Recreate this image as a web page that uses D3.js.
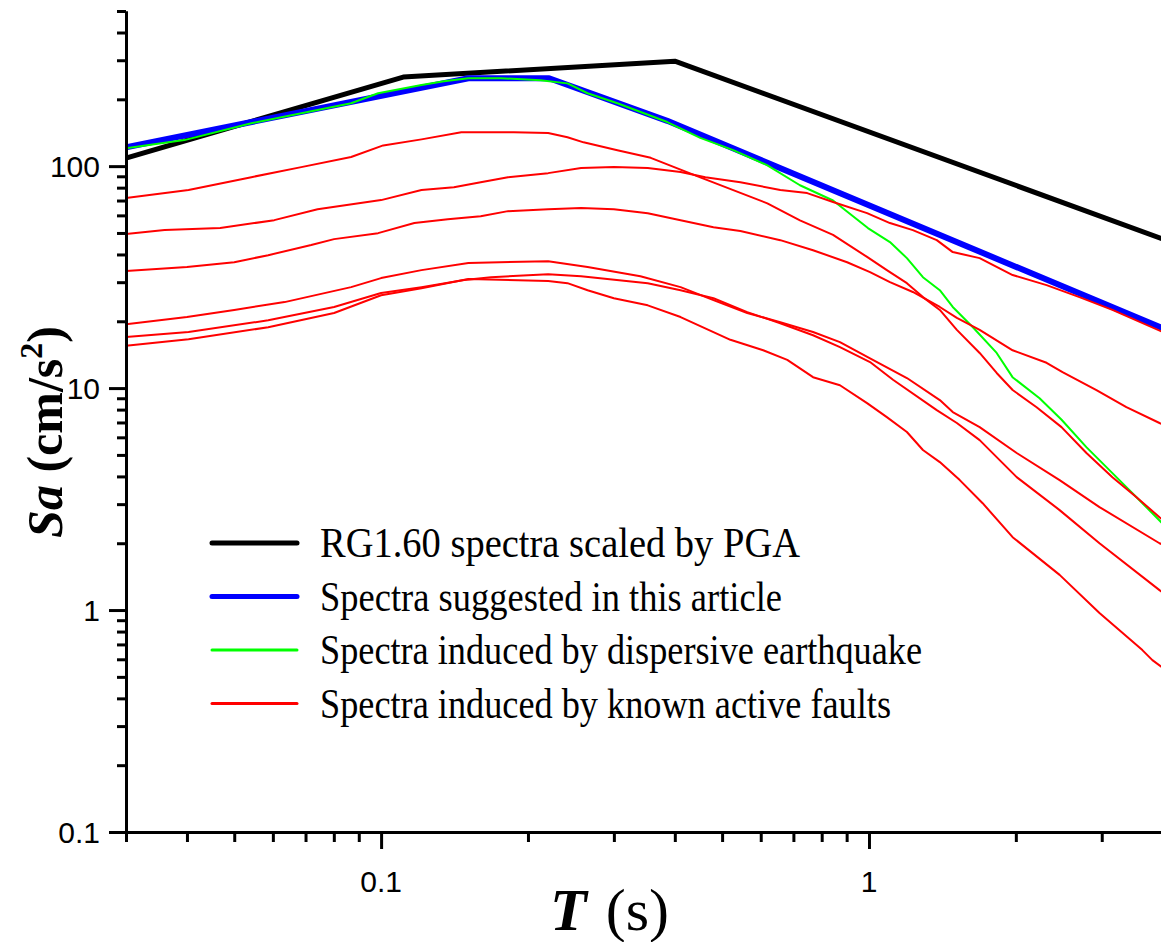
<!DOCTYPE html>
<html>
<head>
<meta charset="utf-8">
<script src="https://cdn.jsdelivr.net/npm/d3@7"></script>
<style>
  html, body { margin: 0; padding: 0; background: #fff; }
  svg { display: block; }
</style>
</head>
<body>
<div id="chart"></div>
<script>
// Sa (cm/s^2) vs period T (s), log-log response spectra

// RG1.60 spectrum scaled by PGA (control points)
const rgPeriods = [0.03, 0.111, 0.4, 4];
const rgValues  = [108.6, 252, 297, 47];

// spectrum suggested in the article
const suggPeriods = [0.03, 0.151, 0.221, 0.386, 4];
const suggValues  = [121.5, 249, 249, 160, 18.6];

// dispersive earthquake
const dispPeriods = [0.03, 0.0395, 0.0542, 0.0868, 0.0986, 0.121, 0.1345, 0.151, 0.176, 0.212, 0.241, 0.265, 0.305,
  0.386, 0.451, 0.527, 0.618, 0.722, 0.844, 0.995, 1.104, 1.196, 1.29, 1.397, 1.485, 1.633, 1.827, 1.969, 2.237,
  2.482, 2.79, 3.155, 3.53, 4];
const dispValues  = [120.5, 131, 156, 192, 213, 232, 241, 249, 249, 244, 236, 213, 192,
  158, 134, 118, 101, 82, 70, 52.6, 45.5, 38.5, 31.6, 27.6, 23.2, 18.8, 14.4, 11.2, 9.0,
  7.2, 5.42, 4.14, 3.23, 2.45];

// known active faults, [T, Sa]
const fault1 = [[0.03,71.8],[0.0403,78],[0.0542,89.2],[0.0686,99],[0.0868,110],[0.101,124],[0.121,132],[0.146,142],
  [0.187,142],[0.22,141],[0.241,135],[0.26,128],[0.305,118],[0.357,109],[0.451,89],[0.527,78],[0.619,68],[0.722,57],
  [0.844,49],[0.991,39],[1.088,34],[1.196,29.7],[1.29,25.7],[1.397,22.5],[1.514,18.3],[1.686,14.4],[1.827,11.7],
  [1.97,9.8],[2.206,8.2],[2.481,6.67],[2.791,5.1],[3.155,3.97],[3.53,3.23],[3.94,2.62],[4,2.55]];
const fault2 = [[0.03,49.4],[0.036,51.5],[0.0468,52.6],[0.0604,57.1],[0.0741,64],[0.1,70.3],[0.121,78],[0.141,80.4],
  [0.16,84.7],[0.182,89.2],[0.22,93],[0.257,98],[0.30,99],[0.352,98],[0.411,94],[0.462,89.2],[0.545,84.7],[0.658,78],
  [0.747,75.6],[0.844,68.9],[0.991,61.4],[1.104,55.4],[1.23,51.5],[1.377,46.4],[1.485,41],[1.686,38.5],[1.97,32.3],
  [2.312,29.1],[2.70,25.7],[3.155,22.5],[4,17.9]];
const fault3 = [[0.03,33.7],[0.04,35.1],[0.05,36.9],[0.0587,39.7],[0.0719,44.1],[0.0801,46.9],[0.0986,49.9],[0.117,55.4],
  [0.137,57.7],[0.16,59.5],[0.182,62.7],[0.22,64],[0.257,64.7],[0.30,64],[0.352,61.4],[0.411,57.1],[0.48,53.1],
  [0.545,51],[0.658,46.4],[0.768,41.8],[0.902,36.9],[1.005,33.3],[1.104,30],[1.23,27.1],[1.397,23.2],[1.514,20.7],
  [1.686,18.3],[1.97,14.8],[2.312,13],[2.493,11.8],[2.926,9.8],[3.37,8.2],[3.94,6.96],[4,6.85]];
const fault4 = [[0.03,19.4],[0.04,20.9],[0.05,22.5],[0.0634,24.4],[0.0868,28.5],[0.1,31.3],[0.121,34],[0.151,36.6],
  [0.22,37.3],[0.265,35.1],[0.34,31.9],[0.411,28.5],[0.48,24.9],[0.563,21.8],[0.658,19.8],[0.768,17.9],[0.872,16.1],
  [1.005,13.6],[1.196,11.1],[1.397,8.83],[1.485,7.8],[1.686,6.67],[2.008,5.1],[2.459,3.85],[2.968,2.91],[3.94,2.0],[4,1.97]];
const fault5 = [[0.03,17],[0.0403,17.9],[0.0587,20.2],[0.0801,23.2],[0.1,26.8],[0.121,28.5],[0.148,30.7],[0.168,31.6],
  [0.22,32.6],[0.257,31.9],[0.352,29.7],[0.411,27.6],[0.48,25.4],[0.563,22],[0.658,19.6],[0.768,17.3],[0.872,15.3],
  [1.005,13.1],[1.12,10.9],[1.377,7.96],[1.514,6.96],[1.686,5.83],[2.008,3.97],[2.459,2.82],[2.968,2.0],[3.94,1.23],[4,1.2]];
const fault6 = [[0.03,15.5],[0.0403,16.6],[0.0587,18.8],[0.0801,21.8],[0.1,26.2],[0.121,28.2],[0.151,31],[0.22,30.4],
  [0.241,29.7],[0.265,27.6],[0.30,25.4],[0.352,23.6],[0.411,20.9],[0.52,16.5],[0.607,14.8],[0.68,13.4],[0.768,11.2],
  [0.872,10.3],[0.991,8.56],[1.088,7.4],[1.196,6.34],[1.29,5.26],[1.397,4.64],[1.535,3.85],[1.71,3.03],[1.97,2.13],
  [2.459,1.44],[2.968,0.97],[3.634,0.66],[3.81,0.595],[4,0.55]];

const legendLabels = [
  "RG1.60 spectra scaled by PGA",
  "Spectra suggested in this article",
  "Spectra induced by dispersive earthquake",
  "Spectra induced by known active faults"
];

const xMajor = [0.1, 1];
const xMinor = [0.03, 0.04, 0.05, 0.06, 0.07, 0.08, 0.09, 0.2, 0.3, 0.4, 0.5, 0.6, 0.7, 0.8, 0.9, 2, 3];
const yMajor = [0.1, 1, 10, 100];
const yMinor = [0.2,0.3,0.4,0.5,0.6,0.7,0.8,0.9, 2,3,4,5,6,7,8,9, 20,30,40,50,60,70,80,90, 200,300,400,500];

// canvas
const W = 1161, H = 942;
const plotLeft = 126, plotRight = 1162.7, plotTop = 11, plotBottom = 832;
const SERIF = "Liberation Serif", SANS = "Liberation Sans";

const svg = d3.select("#chart").append("svg")
  .attr("width", W).attr("height", H)
  .style("background", "#fff");

const x = d3.scaleLog().domain([0.03, 4]).range([plotLeft, plotRight]);
const y = d3.scaleLog().domain([0.1, 500]).range([plotBottom, plotTop]);

svg.append("clipPath").attr("id", "plot")
  .append("rect").attr("x", plotLeft).attr("y", 0).attr("width", W - plotLeft).attr("height", plotBottom);

const line = d3.line().x(d => x(d[0])).y(d => y(d[1]));
const zip = (a, b) => a.map((t, i) => [t, b[i]]);

const g = svg.append("g").attr("clip-path", "url(#plot)").attr("fill", "none")
  .attr("stroke-linejoin", "round").attr("stroke-linecap", "round");

g.append("path").datum(zip(rgPeriods, rgValues)).attr("d", line)
  .attr("stroke", "#000").attr("stroke-width", 5);
g.append("path").datum(zip(suggPeriods, suggValues)).attr("d", line)
  .attr("stroke", "#0000ff").attr("stroke-width", 6);
g.append("path").datum(zip(dispPeriods, dispValues)).attr("d", line)
  .attr("stroke", "#00ff00").attr("stroke-width", 2);
[fault1, fault2, fault3, fault4, fault5, fault6].forEach(f => {
  g.append("path").datum(f).attr("d", line)
    .attr("stroke", "#ff0000").attr("stroke-width", 2);
});

// axes
function styleAxis(sel) {
  sel.selectAll("path, line").attr("stroke", "#000").attr("stroke-width", 3);
  sel.selectAll("text").remove();
}

svg.append("g").attr("transform", `translate(0,${plotBottom})`)
  .call(d3.axisBottom(x).tickValues(xMinor).tickSize(10).tickSizeOuter(0))
  .call(styleAxis);
svg.append("g").attr("transform", `translate(0,${plotBottom})`)
  .call(d3.axisBottom(x).tickValues(xMajor).tickSize(17).tickSizeOuter(0))
  .call(styleAxis);
svg.append("g").attr("transform", `translate(${plotLeft},0)`)
  .call(d3.axisLeft(y).tickValues(yMinor).tickSize(9).tickSizeOuter(0))
  .call(styleAxis);
svg.append("g").attr("transform", `translate(${plotLeft},0)`)
  .call(d3.axisLeft(y).tickValues(yMajor).tickSize(17).tickSizeOuter(0))
  .call(styleAxis);

const fmt = v => v >= 1 ? String(v) : "0.1";

svg.append("g").selectAll("text").data(xMajor).join("text")
  .attr("font-family", SANS).attr("font-size", 30)
  .attr("x", d => x(d)).attr("y", 892)
  .attr("text-anchor", "middle")
  .text(fmt);

svg.append("g").selectAll("text").data(yMajor).join("text")
  .attr("font-family", SANS).attr("font-size", 30)
  .attr("x", 100).attr("y", d => y(d) + 11)
  .attr("text-anchor", "end")
  .text(fmt);

// axis titles
const yt = svg.append("text")
  .attr("font-family", SERIF).attr("font-size", 50).attr("font-weight", "bold")
  .attr("transform", "translate(62,432) rotate(-90)")
  .attr("text-anchor", "middle");
yt.append("tspan").attr("font-style", "italic").text("Sa");
yt.append("tspan").text(" (cm/s");
yt.append("tspan").attr("dy", -20).attr("font-size", 32).text("2");
yt.append("tspan").attr("dy", 20).text(")");

const xt = svg.append("text")
  .attr("font-family", SERIF).attr("font-size", 60)
  .attr("x", 550).attr("y", 930);
xt.append("tspan").attr("font-weight", "bold").attr("font-style", "italic").text("T");
xt.append("tspan").attr("dx", 4).text(" (s)");

// legend
const legendStyles = [
  { color: "#000", width: 5, len: 480 },
  { color: "#0000ff", width: 5, len: 462 },
  { color: "#00ff00", width: 3, len: 602 },
  { color: "#ff0000", width: 3, len: 571 }
];
const leg = svg.append("g").selectAll("g").data(legendLabels).join("g")
  .attr("transform", (d, i) => `translate(0,${543 + i * 53.5})`);
leg.append("line").attr("x1", 212).attr("x2", 297)
  .attr("stroke", (d, i) => legendStyles[i].color)
  .attr("stroke-width", (d, i) => legendStyles[i].width)
  .attr("stroke-linecap", "round");
leg.append("text")
  .attr("font-family", SERIF).attr("font-size", 42)
  .attr("x", 320).attr("y", 14)
  .attr("textLength", (d, i) => legendStyles[i].len)
  .attr("lengthAdjust", "spacingAndGlyphs")
  .text(d => d);
</script>
</body>
</html>
